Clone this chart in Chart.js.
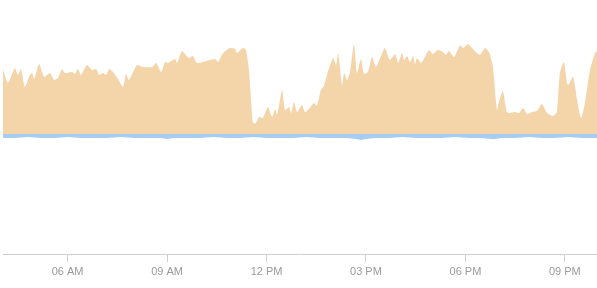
<!DOCTYPE html>
<html>
<head>
<meta charset="utf-8">
<script src="https://cdn.jsdelivr.net/npm/chart.js@4/dist/chart.umd.min.js"></script>
<style>
  body { margin: 0; background: #fff; }
</style>
</head>
<body>
<canvas id="chart" width="597" height="288"></canvas>
<script>
// hours of the day (decimal) and values
const inTimes = [4.05, 4.20, 4.41, 4.50, 4.59, 4.71, 4.86, 4.93, 4.99, 5.14, 5.29, 5.47, 5.59, 5.71, 5.83, 5.92,
  6.13, 6.22, 6.31, 6.40, 6.58, 6.74, 6.86, 6.95, 7.07, 7.16, 7.25, 7.37, 7.52, 7.67, 7.76, 7.85,
  8.09, 8.27, 8.55, 8.67, 8.82, 8.94, 9.03, 9.24, 9.30, 9.45, 9.54, 9.66, 9.78, 9.90,
  10.29, 10.45, 10.54, 10.69, 10.90, 11.05, 11.11, 11.29, 11.38, 11.47, 11.59, 11.68, 11.77, 11.89,
  12.04, 12.17, 12.26, 12.32, 12.47, 12.56, 12.68, 12.74, 12.83, 12.92, 13.07, 13.16, 13.31, 13.43, 13.52, 13.64, 13.73, 13.85,
  14.01, 14.10, 14.16, 14.28, 14.34, 14.43, 14.52, 14.64, 14.73, 14.85, 14.94, 15.06, 15.18, 15.30, 15.42, 15.57, 15.72, 15.88, 15.97,
  16.09, 16.15, 16.24, 16.33, 16.42, 16.48, 16.54, 16.66, 16.75, 16.90, 17.02, 17.17, 17.32, 17.41, 17.50, 17.66, 17.84, 17.93,
  18.08, 18.20, 18.32, 18.44, 18.59, 18.71, 18.83, 18.95, 19.01, 19.13, 19.25, 19.34, 19.50, 19.62, 19.74, 19.86,
  20.01, 20.16, 20.31, 20.46, 20.64, 20.76, 20.85, 20.97, 21.09, 21.25, 21.37, 21.49, 21.61, 21.76, 21.91, 21.97];
const inValues = [65, 51, 66, 59, 65, 47, 59, 61, 55, 70, 57, 61, 54, 56, 65, 61,
  62, 60, 65, 59, 69, 64, 65, 59, 61, 59, 65, 62, 55, 47, 60, 54,
  69, 67, 67, 71, 62, 72, 71, 75, 71, 83, 80, 76, 78, 71,
  74, 75, 72, 81, 86, 85, 81, 86, 84, 64, 11, 11, 17, 16,
  27, 17, 25, 19, 44, 24, 27, 21, 32, 22, 29, 22, 26, 31, 28, 44, 48, 62,
  76, 69, 81, 49, 61, 54, 62, 90, 61, 75, 60, 62, 77, 67, 75, 86, 74, 80, 71,
  81, 74, 78, 72, 78, 70, 76, 71, 75, 84, 80, 84, 82, 79, 83, 77, 89, 86,
  90, 86, 82, 79, 86, 82, 67, 24, 32, 43, 22, 21, 22, 21, 26, 20,
  22, 23, 30, 21, 18, 22, 61, 72, 49, 57, 34, 16, 32, 64, 81, 83];

const outTimes = [4.05, 4.4, 4.8, 5.2, 5.6, 6.0, 6.4, 6.8, 7.2, 7.6, 8.0, 8.4, 8.8, 9.0, 9.2, 9.6,
  10.0, 10.4, 10.8, 11.2, 11.6, 12.0, 12.4, 12.8, 13.2, 13.6, 14.0, 14.4, 14.7, 14.85, 15.0, 15.3,
  15.7, 16.1, 16.5, 16.9, 17.3, 17.7, 18.1, 18.5, 18.75, 18.9, 19.1, 19.5, 19.9, 20.3, 20.7, 21.1, 21.5, 21.97];
const outValues = [-4, -4, -3, -4, -4, -3, -4, -4, -4, -3, -4, -4, -4, -5, -4, -4,
  -4, -3, -4, -4, -3, -4, -4, -4, -3, -4, -4, -4, -5, -6, -5, -4,
  -4, -3, -4, -4, -4, -3, -4, -4, -5, -5, -4, -4, -3, -4, -4, -3, -4, -4];

const tickHours = [6, 9, 12, 15, 18, 21];

function hourLabel(h) {
  const suffix = h < 12 ? 'AM' : 'PM';
  let hh = h % 12;
  if (hh === 0) hh = 12;
  return String(hh).padStart(2, '0') + ' ' + suffix;
}

const ctx = document.getElementById('chart').getContext('2d');

new Chart(ctx, {
  type: 'line',
  data: {
    datasets: [
      {
        data: inTimes.map((t, i) => ({ x: t, y: inValues[i] })),
        backgroundColor: '#f4d4a9',
        borderWidth: 0,
        pointRadius: 0,
        tension: 0.2,
        fill: 'origin'
      },
      {
        data: outTimes.map((t, i) => ({ x: t, y: outValues[i] })),
        backgroundColor: '#a9cdf1',
        borderWidth: 0,
        pointRadius: 0,
        tension: 0.3,
        fill: 'origin'
      }
    ]
  },
  options: {
    responsive: false,
    animation: false,
    layout: { padding: { left: 3, right: 0, top: 0, bottom: 0 } },
    plugins: {
      legend: { display: false },
      tooltip: { enabled: false }
    },
    scales: {
      x: {
        type: 'linear',
        min: inTimes[0],
        max: inTimes[inTimes.length - 1],
        afterBuildTicks: scale => {
          scale.ticks = tickHours.map(h => ({ value: h }));
        },
        afterFit: scale => { scale.height = 34; },
        border: { display: true, color: '#d0d0d0' },
        grid: { drawOnChartArea: false, drawTicks: true, tickLength: 8, color: '#d0d0d0' },
        ticks: {
          color: '#9a9a9a',
          font: { family: 'Liberation Sans', size: 11 },
          padding: 3,
          maxRotation: 0,
          autoSkip: false,
          callback: v => hourLabel(v)
        }
      },
      y: {
        display: false,
        min: -120,
        max: 134
      }
    }
  }
});
</script>
</body>
</html>
